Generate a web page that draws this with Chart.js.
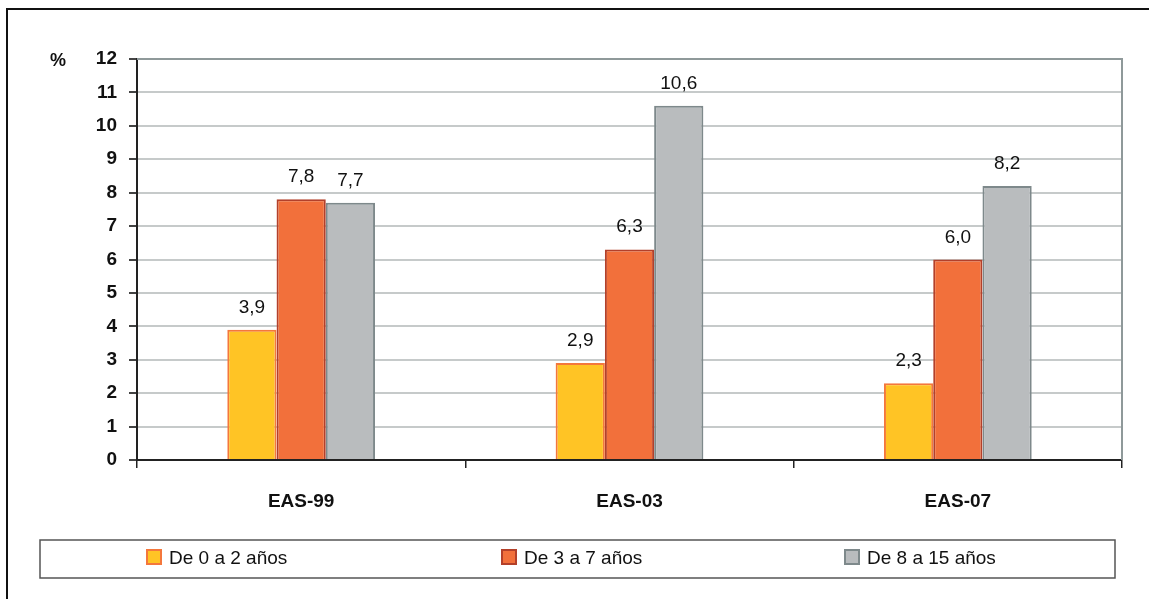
<!DOCTYPE html>
<html>
<head>
<meta charset="utf-8">
<script src="https://cdn.jsdelivr.net/npm/chart.js@4"></script>
<style>
  html, body { margin: 0; padding: 0; background: #fff; }
  #wrap { position: relative; width: 1149px; height: 599px; }
</style>
</head>
<body>
<div id="wrap"><canvas id="chart" width="1149" height="599"></canvas></div>
<script>
// Datos
const categories = ['EAS-99', 'EAS-03', 'EAS-07'];
const seriesNames = ['De 0 a 2 años', 'De 3 a 7 años', 'De 8 a 15 años'];
const age0to2 = [3.9, 2.9, 2.3];
const age3to7 = [7.8, 6.3, 6.0];
const age8to15 = [7.7, 10.6, 8.2];
const yTicks = [0, 1, 2, 3, 4, 5, 6, 7, 8, 9, 10, 11, 12];

const FILL = ['#ffc425', '#f2703b', '#b9bcbe'];
const EDGE = ['#f4773c', '#b3402a', '#7e898b'];
const FONT = '"Liberation Sans Narrow", "Arial Narrow", "Liberation Sans", Arial, sans-serif';

const fmt = v => v.toFixed(1).replace('.', ',');

// marco exterior, borde del área y leyenda
const decor = {
  id: 'decor',
  beforeDraw(c) {
    const ctx = c.ctx;
    ctx.save();
    ctx.strokeStyle = '#111';
    ctx.lineWidth = 2;
    ctx.beginPath();
    ctx.moveTo(7, 599); ctx.lineTo(7, 9); ctx.lineTo(1149, 9);
    ctx.stroke();
    ctx.restore();
  },
  afterDraw(c) {
    const ctx = c.ctx, a = c.chartArea;
    ctx.save();
    // borde derecho gris
    ctx.strokeStyle = '#8f999a';
    ctx.lineWidth = 2;
    ctx.beginPath();
    ctx.moveTo(a.left, a.top); ctx.lineTo(a.right, a.top); ctx.lineTo(a.right, a.bottom);
    ctx.stroke();
    // etiqueta %
    ctx.fillStyle = '#111';
    ctx.font = 'bold 18px ' + FONT;
    ctx.textAlign = 'center';
    ctx.textBaseline = 'middle';
    ctx.fillText('%', 58, 61);
    // valores sobre barras
    ctx.font = '19px ' + FONT;
    ctx.textBaseline = 'alphabetic';
    c.data.datasets.forEach((ds, i) => {
      c.getDatasetMeta(i).data.forEach((bar, j) => {
        ctx.fillText(fmt(ds.data[j]), bar.x, bar.y - 17);
      });
    });
    // leyenda
    ctx.strokeStyle = '#555';
    ctx.lineWidth = 1.5;
    ctx.strokeRect(40, 540, 1075, 38);
    const lx = [147, 502, 845];
    ctx.font = '19px ' + FONT;
    ctx.textAlign = 'left';
    ctx.textBaseline = 'middle';
    c.data.datasets.forEach((ds, i) => {
      ctx.fillStyle = ds.backgroundColor;
      ctx.fillRect(lx[i], 550, 14, 14);
      ctx.strokeStyle = ds.borderColor;
      ctx.lineWidth = 2;
      ctx.strokeRect(lx[i], 550, 14, 14);
      ctx.fillStyle = '#111';
      ctx.fillText(ds.label, lx[i] + 22, 559);
    });
    ctx.restore();
  }
};

const mk = (i, data) => ({
  label: seriesNames[i],
  data,
  backgroundColor: FILL[i],
  borderColor: EDGE[i],
  borderWidth: 2,
  borderSkipped: 'bottom',
  categoryPercentage: 0.45,
  barPercentage: 1.0
});

new Chart(document.getElementById('chart'), {
  type: 'bar',
  data: {
    labels: categories,
    datasets: [mk(0, age0to2), mk(1, age3to7), mk(2, age8to15)]
  },
  options: {
    responsive: false,
    animation: false,
    layout: { padding: { left: 0, top: 59, right: 27, bottom: 0 } },
    plugins: { legend: { display: false }, tooltip: { enabled: false } },
    scales: {
      x: {
        grid: { offset: true, drawOnChartArea: false, tickLength: 8, color: '#222', lineWidth: 1.5 },
        border: { color: '#222', width: 2 },
        ticks: { color: '#111', font: { family: FONT, size: 19, weight: 'bold' }, padding: 22 },
        afterFit: s => { s.height = 139; }
      },
      y: {
        min: 0, max: 12,
        afterBuildTicks: s => { s.ticks = yTicks.map(v => ({ value: v })); },
        grid: { color: '#c6caca', lineWidth: 2, tickLength: 8, tickColor: '#444' },
        border: { color: '#222', width: 2 },
        ticks: { color: '#111', font: { family: FONT, size: 19, weight: 'bold' }, padding: 12 },
        afterFit: s => { s.width = 137; }
      }
    }
  },
  plugins: [decor]
});
</script>
</body>
</html>
